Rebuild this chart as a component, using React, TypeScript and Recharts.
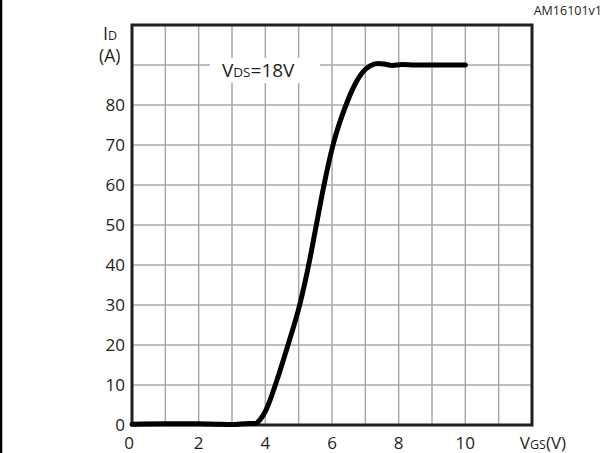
import React from 'react';
import { LineChart, Line, XAxis, YAxis, CartesianGrid, ReferenceArea } from 'recharts';

// transfer characteristic, ID vs VGS at VDS = 18 V
const vgs = [0, 1, 2, 2.5, 3, 3.5, 3.7, 3.85, 4.0, 4.15, 4.3, 4.68, 5.03, 5.3, 5.53, 5.76, 6.03, 6.42, 6.68, 6.9, 7.14, 7.38, 7.6, 7.8, 8.1, 8.5, 9, 10];
const idAmps = [0.2, 0.3, 0.3, 0.2, 0.1, 0.4, 0.4, 1.4, 3.4, 6.4, 10, 20, 30, 40, 50, 60, 70, 80, 85, 88, 89.8, 90.4, 90.2, 89.9, 90.1, 90, 90, 90];

const xTicks = [0, 1, 2, 3, 4, 5, 6, 7, 8, 9, 10, 11, 12];
const xLabels = [0, 2, 4, 6, 8, 10];
const yTicks = [0, 10, 20, 30, 40, 50, 60, 70, 80, 90, 100];
const yLabels = [0, 10, 20, 30, 40, 50, 60, 70, 80];

const data = vgs.map((v, i) => ({ vgs: v, id: idAmps[i] }));

const FONT = '"Open Sans", sans-serif';
const INK = '#231f20';

const XTick = (props: any) => {
  const { x, payload } = props;
  if (!xLabels.includes(payload.value)) return null;
  const nudge = payload.value === 0 ? -3 : 0;
  return (
    <text x={x + nudge} y={449} textAnchor="middle" fontFamily={FONT} fontSize={17} fill={INK}>
      {payload.value}
    </text>
  );
};

const YTick = (props: any) => {
  const { y, payload } = props;
  if (!yLabels.includes(payload.value)) return null;
  return (
    <text x={125} y={y + 6} textAnchor="end" fontFamily={FONT} fontSize={17} fill={INK}>
      {payload.value}
    </text>
  );
};

export default function App() {
  return (
    <div style={{ position: 'relative', width: 606, height: 453, background: '#fff' }}>
      <style>{`body{margin:0}`}</style>
      <LineChart
        width={606}
        height={453}
        data={data}
        margin={{ top: 25, right: 74, bottom: 0, left: 0 }}
      >
        <CartesianGrid stroke="#a8a8a8" strokeWidth={1.5} />
        <XAxis
          dataKey="vgs"
          type="number"
          domain={[0, 12]}
          ticks={xTicks}
          height={28}
          axisLine={false}
          tickLine={false}
          tick={<XTick />}
          interval={0}
        />
        <YAxis
          type="number"
          domain={[0, 100]}
          ticks={yTicks}
          width={132}
          axisLine={false}
          tickLine={false}
          tick={<YTick />}
          interval={0}
        />
        <ReferenceArea x1={0} x2={12} y1={0} y2={100} fill="none" stroke={INK} strokeWidth={3} ifOverflow="visible" />
        <Line
          type="monotone"
          dataKey="id"
          stroke="#000"
          strokeWidth={5}
          dot={false}
          strokeLinecap="round"
          isAnimationActive={false}
        />
      </LineChart>

      <svg
        width={606}
        height={453}
        style={{ position: 'absolute', left: 0, top: 0, pointerEvents: 'none' }}
        fontFamily={FONT}
        fill={INK}
      >
        <line x1={1} y1={0} x2={1} y2={453} stroke="#000" strokeWidth={2.5} />
        <text x={602} y={15} textAnchor="end" fontSize={12.5}>AM16101v1</text>

        <text x={103} y={40} fontSize={18}>
          I<tspan fontSize={12.5}>D</tspan>
        </text>
        <text x={99} y={62} fontSize={17.5}>(A)</text>

        <rect x={210} y={58} width={110} height={25} fill="#fff" />
        <text x={222} y={77} fontSize={19}>
          V<tspan fontSize={13.5}>DS</tspan>=18V
        </text>

        <text x={543} y={449} textAnchor="middle" fontSize={17}>
          V<tspan fontSize={12.5}>GS</tspan>(V)
        </text>
      </svg>
    </div>
  );
}
